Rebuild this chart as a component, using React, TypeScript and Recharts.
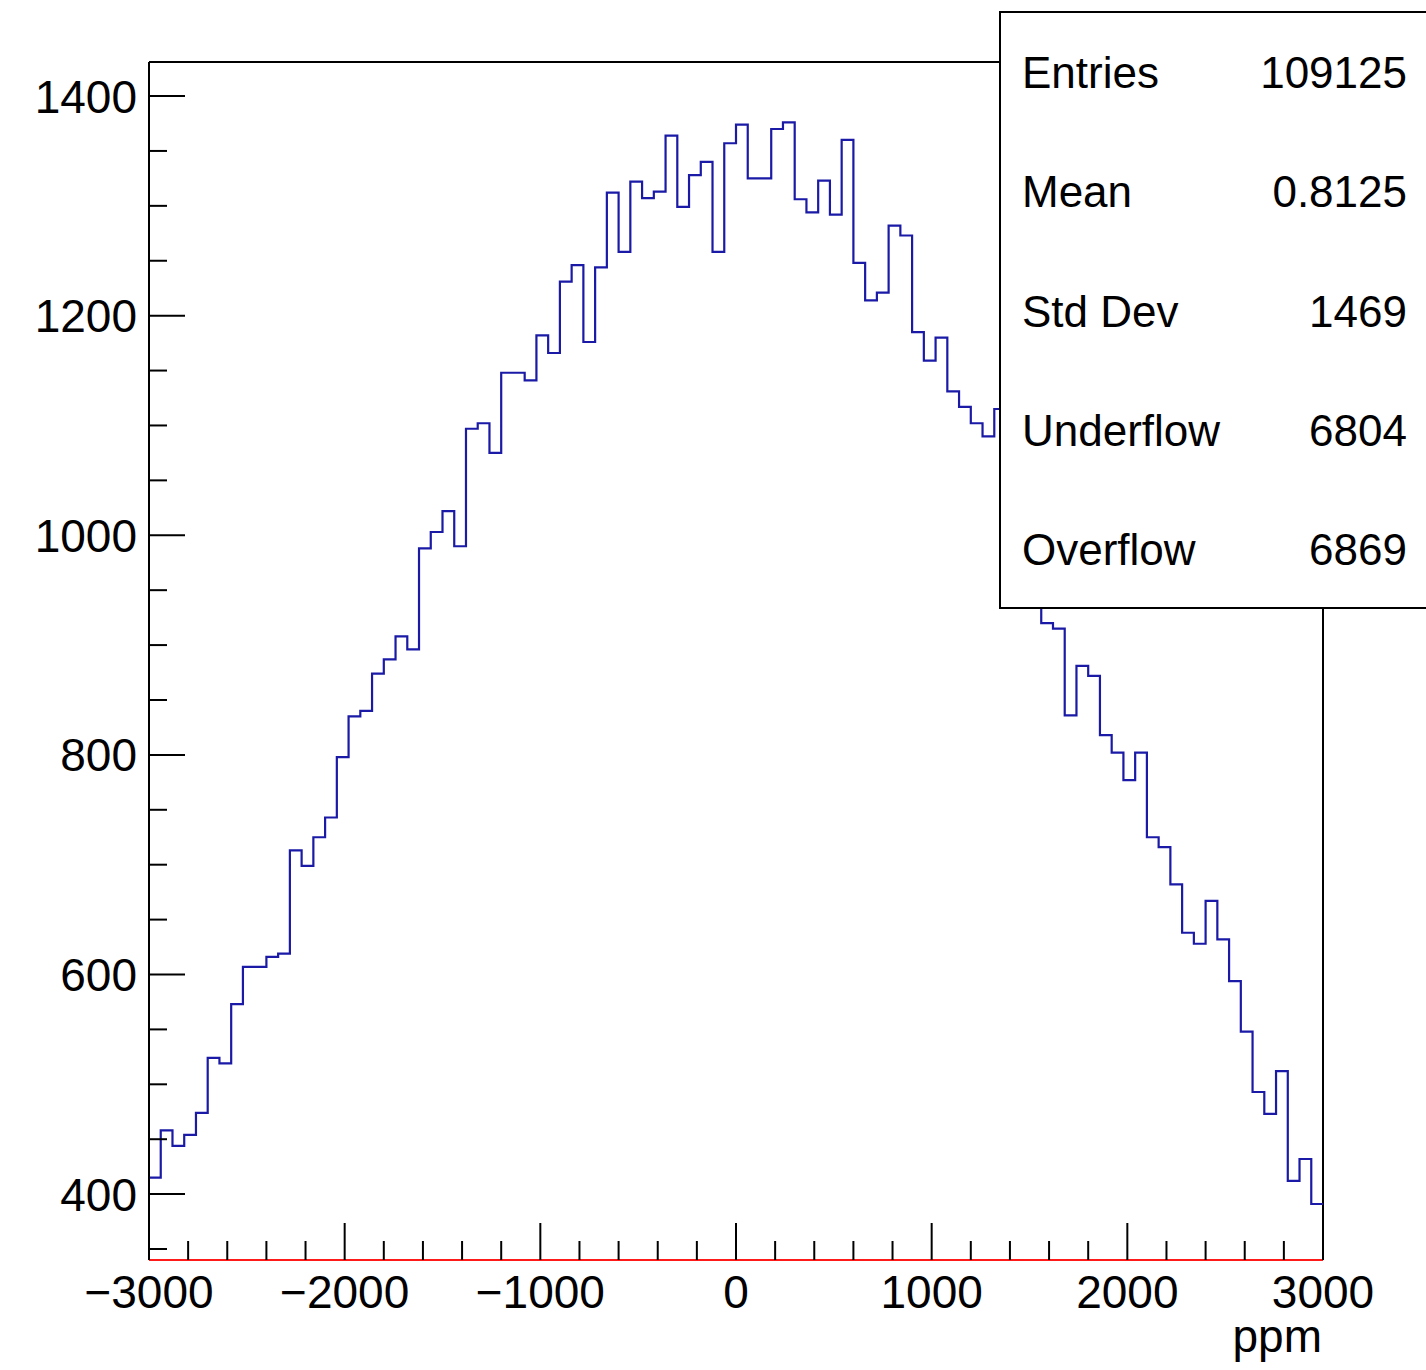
import React from 'react';
import { LineChart, Line, XAxis, YAxis, ReferenceLine } from 'recharts';

const X_MIN = -3000;
const X_MAX = 3000;
const Y_MIN = 340;
const Y_MAX = 1431;

// bin contents, 100 bins of 60 ppm (bins 73-75 sit behind the stats box)
const counts = [
  415, 458, 444, 454, 474, 524, 519, 573, 607, 607,
  616, 619, 713, 699, 725, 743, 798, 835, 840, 874,
  887, 908, 896, 988, 1003, 1022, 990, 1097, 1102, 1075,
  1148, 1148, 1141, 1182, 1166, 1231, 1246, 1176, 1244, 1312,
  1258, 1322, 1307, 1313, 1364, 1299, 1328, 1340, 1258, 1357,
  1374, 1325, 1325, 1370, 1376, 1306, 1294, 1323, 1292, 1360,
  1248, 1214, 1221, 1282, 1273, 1185, 1159, 1180, 1131, 1117,
  1102, 1090, 1115, 1080, 1030, 965, 920, 915, 836, 881,
  872, 818, 802, 777, 802, 725, 716, 682, 638, 628,
  667, 632, 594, 548, 493, 473, 512, 412, 432, 391,
];

const xTicks = [
  -3000, -2800, -2600, -2400, -2200, -2000, -1800, -1600, -1400, -1200,
  -1000, -800, -600, -400, -200, 0, 200, 400, 600, 800,
  1000, 1200, 1400, 1600, 1800, 2000, 2200, 2400, 2600, 2800, 3000,
];
const xMajor = [-3000, -2000, -1000, 0, 1000, 2000, 3000];

const yTicks = [
  350, 400, 450, 500, 550, 600, 650, 700, 750, 800, 850,
  900, 950, 1000, 1050, 1100, 1150, 1200, 1250, 1300, 1350, 1400,
];
const yMajor = [400, 600, 800, 1000, 1200, 1400];

const statNames = ['Entries', 'Mean', 'Std Dev', 'Underflow', 'Overflow'];
const statValues = ['109125', '0.8125', '1469', '6804', '6869'];

const xTitle = 'ppm';

const FONT = '"Liberation Sans", Arial, Helvetica, sans-serif';

const binWidth = (X_MAX - X_MIN) / counts.length;
const histData = counts.map((c, i) => ({ x: X_MIN + i * binWidth, count: c }));
histData.push({ x: X_MAX, count: counts[counts.length - 1] });

const fmt = (v: number) => (v < 0 ? '\u2212' + Math.abs(v) : String(v));

const YTick = (props: any) => {
  const { x, y, payload } = props;
  const axisX = x + 12;
  const major = yMajor.includes(payload.value);
  return (
    <g>
      <line x1={axisX} x2={axisX + (major ? 36 : 18)} y1={y} y2={y} stroke="#000" strokeWidth={2} />
      {major && (
        <text x={x} y={y} dy={16.5} textAnchor="end" fontSize={46} fontFamily={FONT} fill="#000">
          {payload.value}
        </text>
      )}
    </g>
  );
};

const XTick = (props: any) => {
  const { x, y, payload } = props;
  const axisY = y - 48;
  const major = xMajor.includes(payload.value);
  return (
    <g>
      <line x1={x} x2={x} y1={axisY} y2={axisY - (major ? 37 : 19)} stroke="#000" strokeWidth={2} />
      {major && (
        <text x={x} y={y} textAnchor="middle" fontSize={46} fontFamily={FONT} fill="#000">
          {fmt(payload.value)}
        </text>
      )}
    </g>
  );
};

export default function App() {
  return (
    <div
      style={{
        position: 'absolute',
        left: 0,
        top: 0,
        width: 1426,
        height: 1370,
        overflow: 'hidden',
        background: '#fff',
      }}
    >
      <LineChart
        width={1426}
        height={1370}
        data={histData}
        margin={{ top: 62, right: 103, bottom: 0, left: 0 }}
      >
        <XAxis
          type="number"
          dataKey="x"
          domain={[X_MIN, X_MAX]}
          ticks={xTicks}
          interval={0}
          allowDataOverflow
          height={110}
          tickSize={0}
          tickMargin={48}
          tick={<XTick />}
          axisLine={{ stroke: '#ff1a1a', strokeWidth: 2 }}
          tickLine={false}
        />
        <YAxis
          type="number"
          domain={[Y_MIN, Y_MAX]}
          ticks={yTicks}
          interval={0}
          allowDataOverflow
          width={149}
          tickSize={0}
          tickMargin={12}
          tick={<YTick />}
          axisLine={{ stroke: '#000', strokeWidth: 2 }}
          tickLine={false}
        />
        <ReferenceLine y={Y_MAX} stroke="#000" strokeWidth={2} />
        <ReferenceLine x={X_MAX} stroke="#000" strokeWidth={2} />
        <Line
          type="stepAfter"
          dataKey="count"
          stroke="#1a1aa6"
          strokeWidth={2.2}
          dot={false}
          activeDot={false}
          isAnimationActive={false}
        />
      </LineChart>
      <svg
        width={1426}
        height={1370}
        style={{ position: 'absolute', left: 0, top: 0, pointerEvents: 'none' }}
      >
        <rect x={1000} y={12} width={500} height={596} fill="#fff" stroke="#000" strokeWidth={2} />
        {statNames.map((name, i) => (
          <g key={name}>
            <text x={1022} y={88 + i * 119.3} fontSize={44} fontFamily={FONT} fill="#000">
              {name}
            </text>
            <text x={1407} y={88 + i * 119.3} textAnchor="end" fontSize={44} fontFamily={FONT} fill="#000">
              {statValues[i]}
            </text>
          </g>
        ))}
        <text x={1322} y={1352} textAnchor="end" fontSize={46} fontFamily={FONT} fill="#000">
          {xTitle}
        </text>
      </svg>
    </div>
  );
}
